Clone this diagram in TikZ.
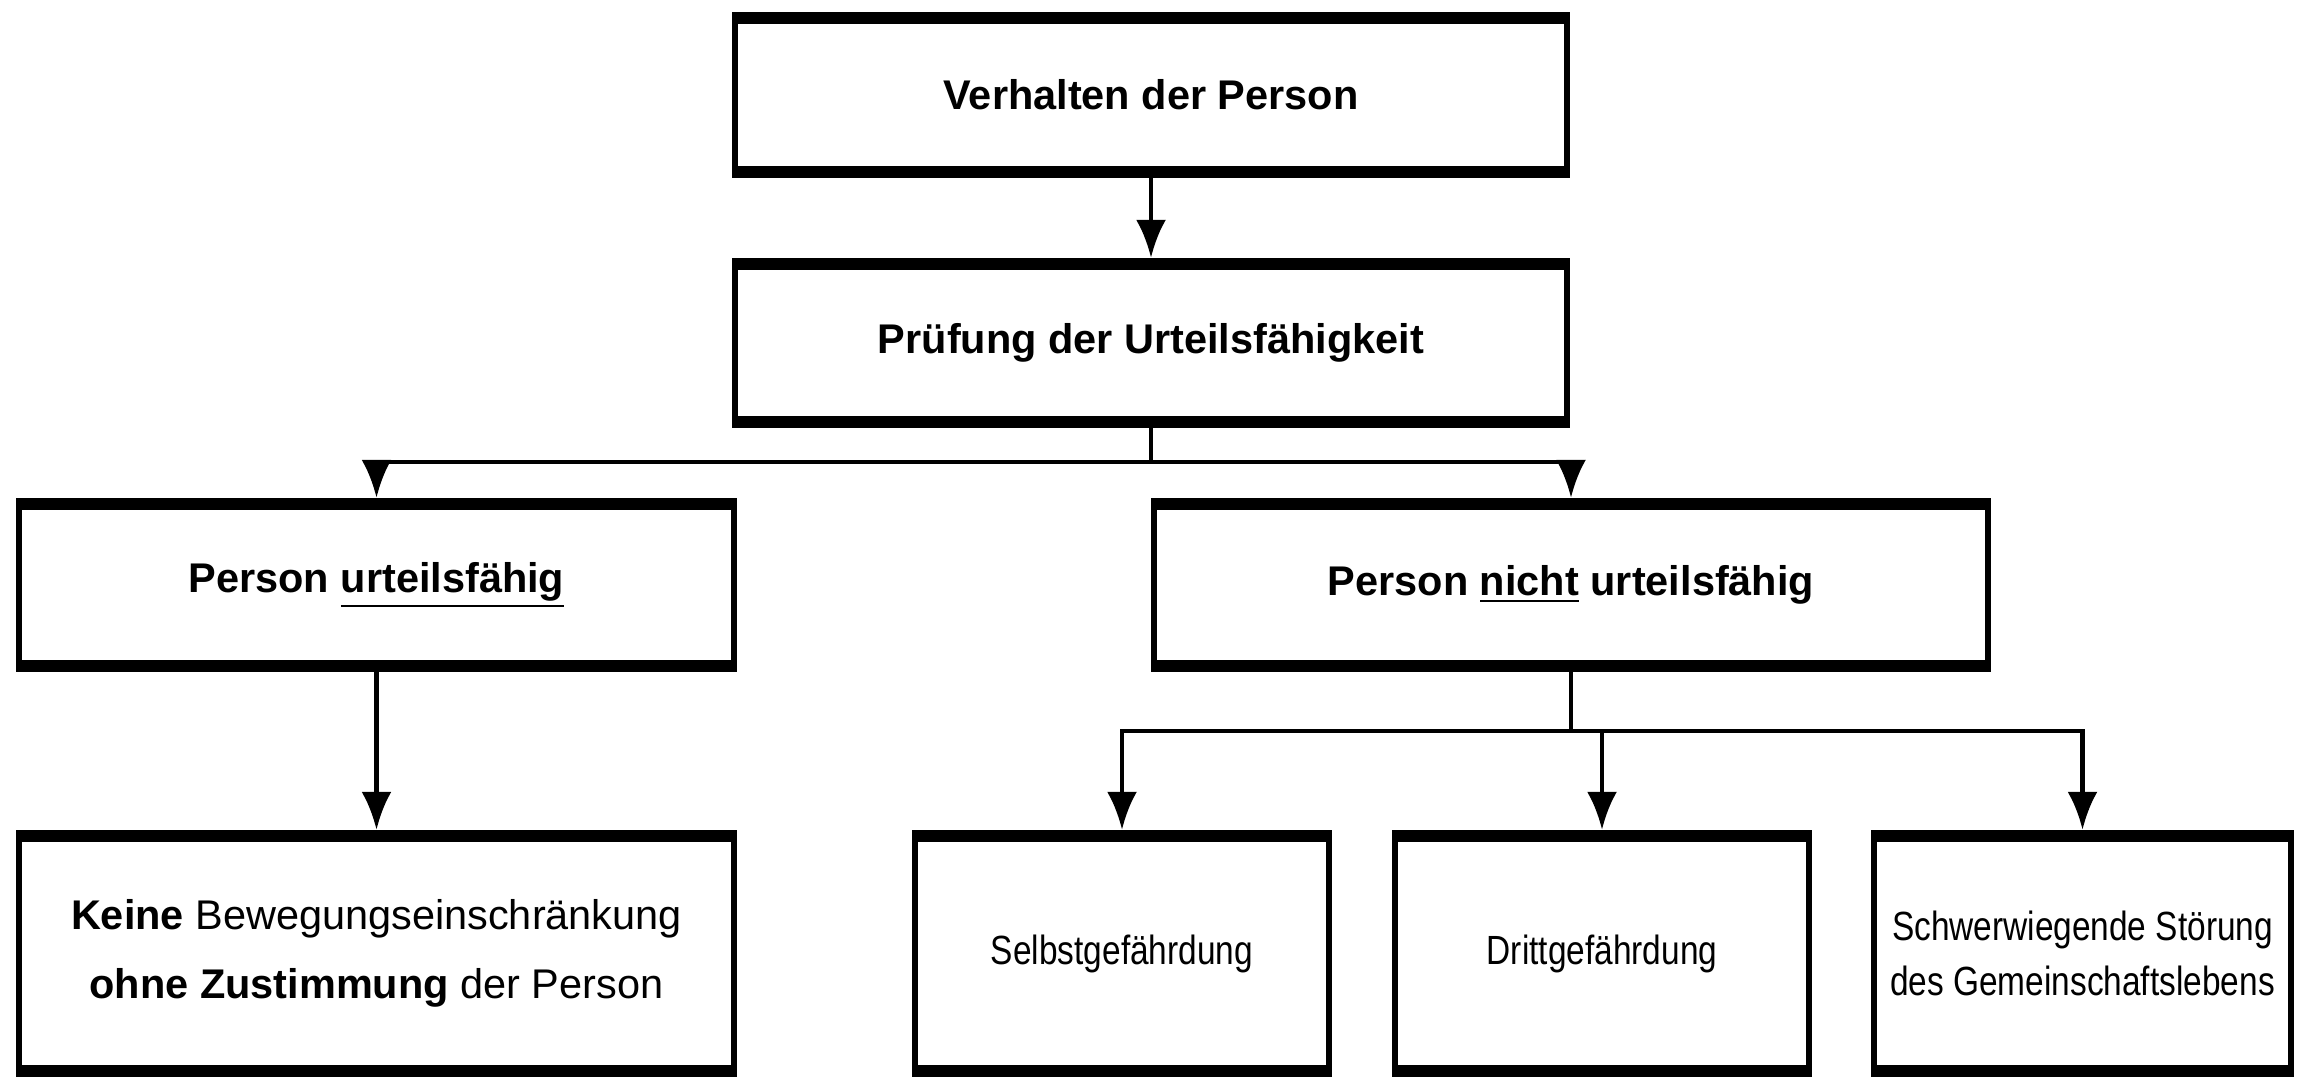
\documentclass[tikz,border=0pt]{standalone}
\usepackage{fontspec}
\setmainfont{Liberation Sans}
\newfontfamily\narrowfont[FakeStretch=0.82]{Liberation Sans}
\usepackage{tikz}
\usetikzlibrary{arrows.meta}

\begin{document}
\begin{tikzpicture}[
    box/.style={draw, line width=1.8pt, inner sep=0pt, align=center,
      path picture={\draw[line width=5pt]
        (path picture bounding box.north west) -- (path picture bounding box.north east)
        (path picture bounding box.south west) -- (path picture bounding box.south east);}},
    head/.style={box, font=\fontsize{11.8}{14}\selectfont\bfseries},
    leaf/.style={box, minimum width=4.14cm, minimum height=2.41cm,
      font=\narrowfont\fontsize{11.6}{15.6}\selectfont},
    link/.style={line width=1.3pt}
  ]
    \useasboundingbox (0,0) rectangle (22.98,-10.81);

    % rows
    \def \rowa {-0.95}
    \def \rowb {-3.43}
    \def \rowc {-5.85}
    \def \rowd {-9.535}

    \node[head, minimum width=8.32cm, minimum height=1.60cm] (verhalten) at (11.51,\rowa) {Verhalten der Person};
    \node[head, minimum width=8.32cm, minimum height=1.64cm] (pruefung) at (11.51,\rowb) {Prüfung der Urteilsfähigkeit};

    \node[head, minimum width=7.15cm, minimum height=1.68cm] (urteil) at (3.765,\rowc) {Person \underline{urteilsfähig}};
    \node[head, minimum width=8.34cm, minimum height=1.68cm] (nicht) at (15.71,\rowc) {Person \underline{nicht} urteilsfähig};

    \node[box, minimum width=7.15cm, minimum height=2.41cm,
      font=\fontsize{11.8}{19.6}\selectfont] (keine) at (3.765,\rowd)
      {\textbf{Keine} Bewegungseinschränkung\\\textbf{ohne Zustimmung} der Person};
    \node[leaf] (selbst) at (11.22,\rowd) {Selbstgefährdung};
    \node[leaf] (dritt) at (16.02,\rowd) {Drittgefährdung};
    \node[leaf, minimum width=4.17cm] (schwer) at (20.825,\rowd) {Schwerwiegende Störung\\des Gemeinschaftslebens};

    \coordinate (splitb) at (11.51,-4.62);
    \coordinate (splitc) at (15.71,-7.31);

    \draw[link, ->, >={Latex[length=0.38cm,width=0.3cm]}] (verhalten) -- (pruefung);
    \draw[link] (pruefung) -- (splitb);
    \draw[link, ->, >={Latex[length=0.38cm,width=0.3cm]}] (splitb) -| (urteil);
    \draw[link, ->, >={Latex[length=0.38cm,width=0.3cm]}] (splitb) -| (nicht);

    \draw[link, ->, >={Latex[length=0.38cm,width=0.3cm]}] (urteil) -- (keine);

    \draw[link] (nicht) -- (splitc);
    \draw[link, ->, >={Latex[length=0.38cm,width=0.3cm]}] (splitc) -| (selbst);
    \draw[link, ->, >={Latex[length=0.38cm,width=0.3cm]}] (splitc) -| (dritt);
    \draw[link, ->, >={Latex[length=0.38cm,width=0.3cm]}] (splitc) -| (schwer);
\end{tikzpicture}
\end{document}
